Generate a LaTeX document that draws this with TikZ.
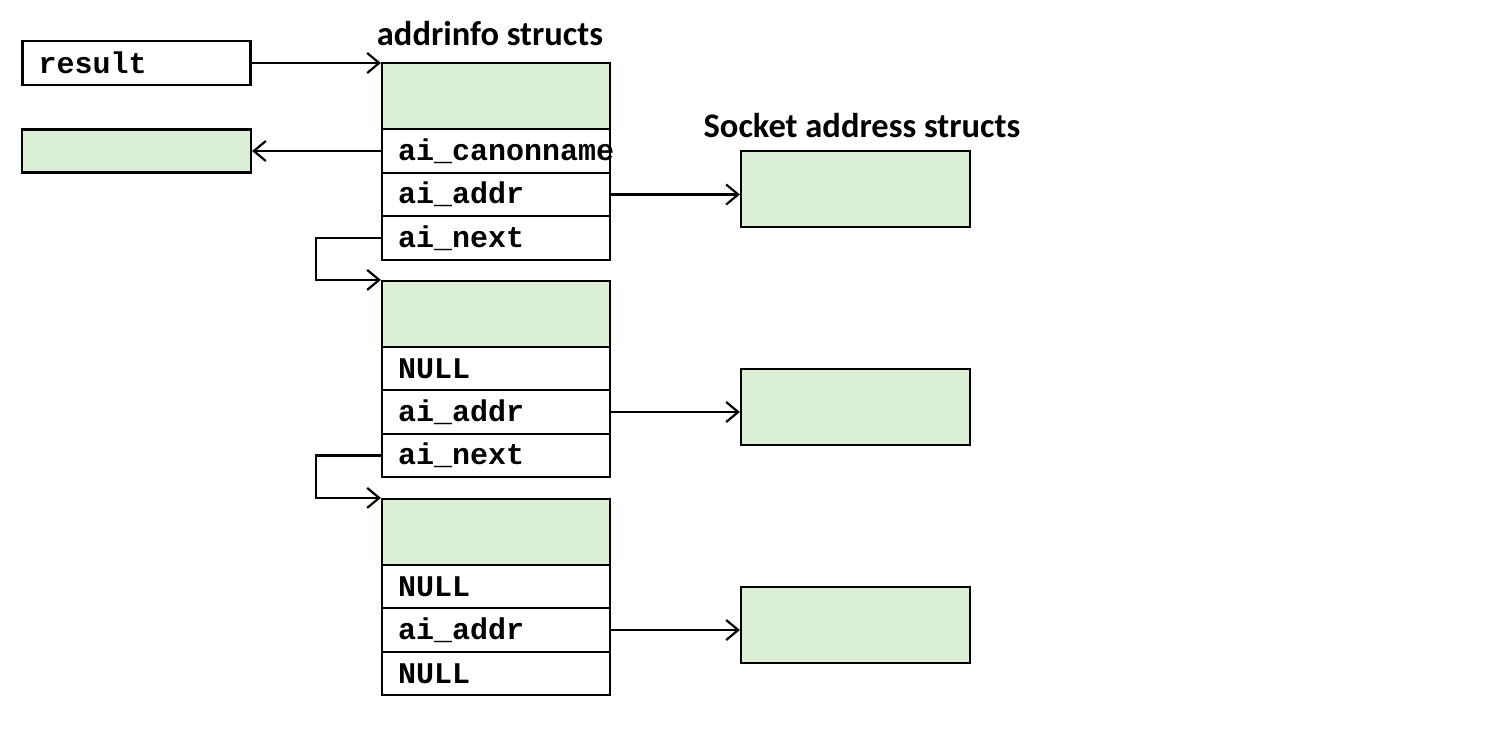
\documentclass[tikz,border=0pt]{standalone}
\usepackage{fontspec}
\setmainfont{Carlito}
\newfontfamily\codefont[HyphenChar=None]{Liberation Mono}
\usetikzlibrary{arrows.meta}
\definecolor{boxgreen}{RGB}{220,240,216}
\tikzset{
  field/.style={draw, line width=2.2pt, minimum height=43.5pt, text width=196pt,
    inner xsep=16pt, inner ysep=0pt, align=left,
    font=\codefont\bfseries\fontsize{30}{30}\selectfont},
  head/.style={draw, line width=2.2pt, fill=boxgreen, minimum width=228pt,
    minimum height=66pt, inner sep=0pt},
  leaf/.style={draw, line width=2.2pt, fill=boxgreen, minimum width=229pt,
    minimum height=43pt, inner sep=0pt},
  sockbox/.style={draw, line width=2.2pt, fill=boxgreen, minimum width=229pt,
    minimum height=76pt, inner sep=0pt},
  title/.style={font=\bfseries\fontsize{34.5}{34.5}\selectfont},
  link/.style={line width=2.2pt, ->}
}
\begin{document}
\begin{tikzpicture}[x=1pt, y=-1pt, >={Straight Barb[length=12pt,width=20pt,line width=2.2pt]}]
\useasboundingbox (0,0) rectangle (1494,748);
% Titulos
\node[title] (tinfo) at (490,34) {addrinfo structs};
\node[title] (tsock) at (862,126) {Socket address structs};
% Ponteiros soltos
\node[field] (result) at (136.5,63) {result};
\node[leaf] (cname) at (136.5,151) {};
% Primeira struct
\node[head] (h1) at (496,96) {};
\node[field] (c1) at (496,151) {ai\_canonname};
\node[field] (a1) at (496,194.5) {ai\_addr};
\node[field] (n1) at (496,238) {ai\_next};
% Segunda struct
\node[head] (h2) at (496,314) {};
\node[field] (c2) at (496,368.5) {NULL};
\node[field] (a2) at (496,412) {ai\_addr};
\node[field] (n2) at (496,455.5) {ai\_next};
% Terceira struct
\node[head] (h3) at (496,532) {};
\node[field] (c3) at (496,586.5) {NULL};
\node[field] (a3) at (496,630) {ai\_addr};
\node[field] (n3) at (496,673.5) {NULL};
% Enderecos de socket
\node[sockbox] (sa1) at (855.5,189) {};
\node[sockbox] (sa2) at (855.5,407) {};
\node[sockbox] (sa3) at (855.5,625) {};
% Ligacoes
\draw[link] (result.east) -- (result.east -| h1.west);
\draw[link] (c1.west) -- (cname.east);
\draw[link] (a1.east) -- (a1.east -| sa1.west);
\draw[link] (a2.east) -- (a2.east -| sa2.west);
\draw[link] (a3.east) -- (a3.east -| sa3.west);
\draw[link] (n1.west) -- ++(-65,0) |- (h2.north west);
\draw[link] (n2.west) -- ++(-65,0) |- (h3.north west);
\end{tikzpicture}
\end{document}
